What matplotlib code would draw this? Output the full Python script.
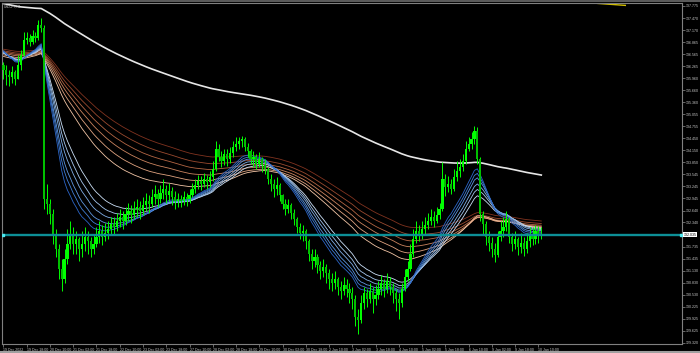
import numpy as np
import matplotlib.pyplot as plt

symbol = 'USDJPY,H1'

# 2-hour candles, 19 Dec 2022 .. 10 Jan 2023
closes = [
    136.18, 136.05, 135.98, 136.13, 135.93, 136.30, 136.55, 136.93, 136.98, 136.88,
    137.03, 136.98, 137.30, 137.23, 132.93, 132.81, 132.56, 132.06, 131.68, 131.18,
    130.93, 131.43, 131.81, 132.06, 131.81, 131.93, 131.68, 131.81, 131.98, 131.88,
    131.68, 131.81, 131.98, 132.13, 131.98, 132.08, 132.18, 132.30, 132.23, 132.38,
    132.48, 132.38, 132.56, 132.63, 132.53, 132.68, 132.73, 132.63, 132.78, 132.88,
    132.81, 132.98, 133.06, 132.93, 133.08, 133.18, 133.03, 133.13, 132.98, 132.88,
    132.93, 132.88, 132.98, 132.93, 133.03, 133.18, 133.28, 133.38, 133.31, 133.43,
    133.36, 133.48, 133.68, 134.18, 133.98, 133.88, 134.06, 133.93, 134.08, 134.23,
    134.30, 134.38, 134.43, 134.23, 134.13, 133.93, 133.98, 133.81, 133.93, 133.78,
    133.68, 133.43, 133.31, 133.18, 133.28, 133.03, 132.81, 132.68, 132.78, 132.58,
    132.43, 132.23, 132.08, 132.13, 131.88, 131.56, 131.38, 131.48, 131.28, 131.13,
    131.23, 131.06, 130.93, 130.83, 130.93, 130.73, 130.63, 130.78, 130.68, 130.56,
    130.43, 129.98, 129.88, 130.31, 130.56, 130.43, 130.63, 130.43, 130.53, 130.68,
    130.81, 130.68, 130.88, 130.73, 130.56, 130.43, 130.31, 130.68, 130.98, 131.18,
    131.56, 131.93, 132.13, 132.03, 132.18, 132.28, 132.38, 132.48, 132.38, 132.53,
    132.68, 133.43, 133.23, 133.31, 133.18, 133.48, 133.63, 133.73, 133.88, 134.18,
    134.30, 134.43, 134.63, 133.93, 132.56, 132.30, 131.98, 131.83, 131.68, 131.53,
    131.98, 132.13, 132.23, 132.43, 131.98, 131.81, 131.93, 131.73, 131.83, 131.68,
    131.88, 132.03, 131.93, 132.13, 132.03, 132.035,
]
highs = [
    136.36, 136.30, 136.18, 136.28, 136.18, 136.55, 136.68, 137.11, 137.13, 137.06,
    137.18, 137.11, 137.43, 137.48, 137.30, 133.31, 132.93, 132.68, 132.18, 131.81,
    131.43, 131.68, 132.18, 132.38, 132.23, 132.13, 131.98, 132.13, 132.23, 132.13,
    131.98, 132.06, 132.23, 132.38, 132.28, 132.33, 132.38, 132.48, 132.48, 132.58,
    132.68, 132.63, 132.73, 132.83, 132.78, 132.88, 132.93, 132.88, 132.98, 133.08,
    133.03, 133.18, 133.28, 133.18, 133.28, 133.43, 133.28, 133.33, 133.23, 133.13,
    133.08, 133.03, 133.13, 133.08, 133.18, 133.33, 133.43, 133.53, 133.51, 133.58,
    133.53, 133.63, 133.88, 134.38, 134.30, 134.13, 134.18, 134.18, 134.23, 134.38,
    134.48, 134.48, 134.51, 134.48, 134.33, 134.18, 134.13, 134.06, 134.11, 133.98,
    133.93, 133.73, 133.56, 133.43, 133.48, 133.33, 133.06, 132.93, 132.93, 132.83,
    132.68, 132.48, 132.33, 132.28, 132.18, 131.93, 131.68, 131.68, 131.56, 131.38,
    131.43, 131.31, 131.18, 131.08, 131.13, 130.98, 130.88, 130.98, 130.93, 130.81,
    130.73, 130.53, 130.18, 130.53, 130.73, 130.68, 130.83, 130.73, 130.78, 130.88,
    131.03, 130.93, 131.08, 130.98, 130.83, 130.68, 130.58, 130.81, 131.18, 131.38,
    131.81, 132.18, 132.38, 132.28, 132.38, 132.48, 132.58, 132.68, 132.63, 132.73,
    132.83, 133.86, 133.56, 133.51, 133.43, 133.68, 133.88, 133.93, 134.06, 134.38,
    134.48, 134.61, 134.76, 134.73, 133.98, 132.63, 132.38, 132.13, 131.98, 131.83,
    132.13, 132.38, 132.48, 132.63, 132.48, 132.08, 132.13, 131.98, 132.08, 131.98,
    132.08, 132.23, 132.23, 132.28, 132.26, 132.23,
]
lows = [
    135.93, 135.80, 135.76, 135.83, 135.78, 135.93, 136.18, 136.51, 136.81, 136.76,
    136.83, 136.86, 136.93, 137.11, 132.68, 132.56, 132.31, 131.81, 131.48, 130.93,
    130.63, 130.81, 131.31, 131.68, 131.56, 131.56, 131.38, 131.48, 131.63, 131.56,
    131.48, 131.56, 131.73, 131.83, 131.78, 131.88, 131.93, 132.03, 132.03, 132.13,
    132.23, 132.18, 132.28, 132.38, 132.33, 132.43, 132.48, 132.43, 132.53, 132.63,
    132.58, 132.73, 132.81, 132.73, 132.83, 132.93, 132.83, 132.88, 132.78, 132.68,
    132.73, 132.73, 132.78, 132.76, 132.83, 132.98, 133.08, 133.18, 133.16, 133.23,
    133.18, 133.23, 133.38, 133.63, 133.88, 133.73, 133.78, 133.76, 133.83, 133.98,
    134.13, 134.18, 134.23, 134.13, 133.98, 133.81, 133.73, 133.68, 133.73, 133.61,
    133.56, 133.31, 133.13, 132.98, 133.03, 132.88, 132.68, 132.53, 132.58, 132.43,
    132.28, 132.08, 131.93, 131.88, 131.68, 131.38, 131.18, 131.23, 131.06, 130.93,
    130.98, 130.81, 130.68, 130.63, 130.68, 130.53, 130.43, 130.53, 130.48, 130.31,
    130.18, 129.73, 129.55, 129.81, 130.18, 130.23, 130.33, 130.06, 130.28, 130.43,
    130.53, 130.48, 130.58, 130.53, 130.31, 130.13, 129.93, 130.23, 130.63, 130.88,
    131.13, 131.48, 131.83, 131.88, 131.93, 132.03, 132.18, 132.28, 132.23, 132.33,
    132.43, 132.63, 133.01, 133.11, 133.06, 133.13, 133.38, 133.48, 133.63, 133.81,
    134.13, 134.18, 134.30, 133.81, 132.38, 132.06, 131.78, 131.63, 131.48, 131.36,
    131.48, 131.88, 131.98, 132.13, 131.83, 131.63, 131.68, 131.53, 131.58, 131.51,
    131.58, 131.73, 131.78, 131.81, 131.83, 131.93,
]
first_open = 136.30

# moving average ribbon (EMA on 2h closes) and values where the chart begins
blue_periods = [14, 16, 18, 21, 24, 28]
blue_start = [136.72, 136.70, 136.68, 136.66, 136.64, 136.62]
brown_periods = [55, 64, 73, 82, 92, 104]
brown_start = [136.52, 136.56, 136.60, 136.63, 136.66, 136.70]
slow_period = 235
slow_start = 137.85

blue_colors = ['#2c66c8', '#417ed6', '#5e96de', '#80aee6', '#a6c7ee', '#cadff6']
brown_colors = ['#f2c5a6', '#e0a380', '#cb845f', '#b46644', '#9a4a2f', '#80331f']

y_ticks = [137.775, 137.470, 137.170, 136.865, 136.565, 136.265, 135.960, 135.660,
           135.360, 135.055, 134.755, 134.450, 134.150, 133.850, 133.545, 133.245,
           132.945, 132.640, 132.340, 131.735, 131.435, 131.130, 130.830, 130.530,
           130.225, 129.925, 129.625, 129.320]
x_labels = ['19 Dec 2022', '19 Dec 18:00', '20 Dec 10:00', '21 Dec 02:00', '21 Dec 18:00',
            '22 Dec 10:00', '23 Dec 02:00', '23 Dec 18:00', '27 Dec 10:00', '28 Dec 02:00',
            '28 Dec 18:00', '29 Dec 10:00', '30 Dec 02:00', '30 Dec 18:00', '2 Jan 10:00',
            '3 Jan 02:00', '3 Jan 18:00', '4 Jan 10:00', '5 Jan 02:00', '5 Jan 18:00',
            '6 Jan 10:00', '9 Jan 02:00', '9 Jan 18:00', '10 Jan 10:00']
x_ticks = [8 * i for i in range(len(x_labels))]

trend_x = [204.3, 213.9]
trend_y = [137.84, 137.79]


def ema(values, period, start):
    a = 2.0 / (period + 1)
    out = []
    e = start
    for v in values:
        e += a * (v - e)
        out.append(e)
    return np.array(out)


plt.rcParams['font.family'] = ['Liberation Sans', 'DejaVu Sans']

c = np.array(closes)
h = np.array(highs)
l = np.array(lows)
o = np.array([first_open] + closes[:-1])
idx = np.arange(len(c))
last_price = closes[-1]

fig = plt.figure(figsize=(7, 3.53), dpi=100, facecolor='black')
ax = fig.add_axes([2 / 700, 9 / 353, 680 / 700, 341 / 353], facecolor='black')

# ribbon
for p, s, col in zip(brown_periods[::-1], brown_start[::-1], brown_colors[::-1]):
    ax.plot(idx, ema(c, p, s), color=col, lw=0.6, zorder=2)
for p, s, col in zip(blue_periods[::-1], blue_start[::-1], blue_colors[::-1]):
    ax.plot(idx, ema(c, p, s), color=col, lw=0.6, zorder=2)
ax.plot(idx, ema(c, slow_period, slow_start), color='#e6e6e6', lw=1.2, zorder=2)

# candles
hi = np.maximum(h, np.maximum(o, c))
lo = np.minimum(l, np.minimum(o, c))
ax.vlines(idx, lo, hi, color='#00ff00', lw=0.7, zorder=3)
up = c >= o
ax.bar(idx[up], (c - o)[up], bottom=o[up], width=0.75, color='#00ff00', lw=0, zorder=3)
ax.bar(idx[~up], (c - o)[~up], bottom=o[~up], width=0.75, color='#00c000', lw=0, zorder=3)

ax.plot(trend_x, trend_y, color='#d4c000', lw=1.0, zorder=2)

ax.set_xlim(-0.5, 233.4)
ax.set_ylim(129.29, 137.85)

# bid line
ax.axhline(last_price, color='#0d8f96', lw=1.7, zorder=4)
ax.plot([233.0], [last_price], 's', ms=1.8, color='#4fe8ee', zorder=5)
ax.plot([-0.3], [last_price], 's', ms=1.8, color='#4fe8ee', zorder=5)
ax.text(1.002, last_price, f'{last_price:.3f}', transform=ax.get_yaxis_transform(),
        ha='left', va='center', fontsize=2.6, color='black',
        bbox=dict(fc='white', ec='none', pad=0.5))

ax.text(0.002, 0.997, symbol, transform=ax.transAxes, ha='left', va='top',
        fontsize=2.3, color='#c8c8c8')

ax.yaxis.tick_right()
ax.set_yticks(y_ticks, [f'{v:.3f}' for v in y_ticks])
ax.set_xticks(x_ticks, x_labels)
for t in ax.get_xticklabels():
    t.set_ha('left')
ax.tick_params(axis='both', colors='#909090', labelcolor='#c8c8c8', labelsize=2.6,
               length=2, width=0.5, pad=1)
for sp in ax.spines.values():
    sp.set_color('#808080')
    sp.set_linewidth(0.8)

# window borders
fig.add_artist(plt.Line2D([0, 1], [1 - 1 / 353, 1 - 1 / 353], color='#5a5a5a', lw=1.5))
fig.add_artist(plt.Line2D([0, 1], [1 / 353, 1 / 353], color='#a0a0a0', lw=1.5))

fig.savefig('out.png', dpi=100, facecolor='black')
